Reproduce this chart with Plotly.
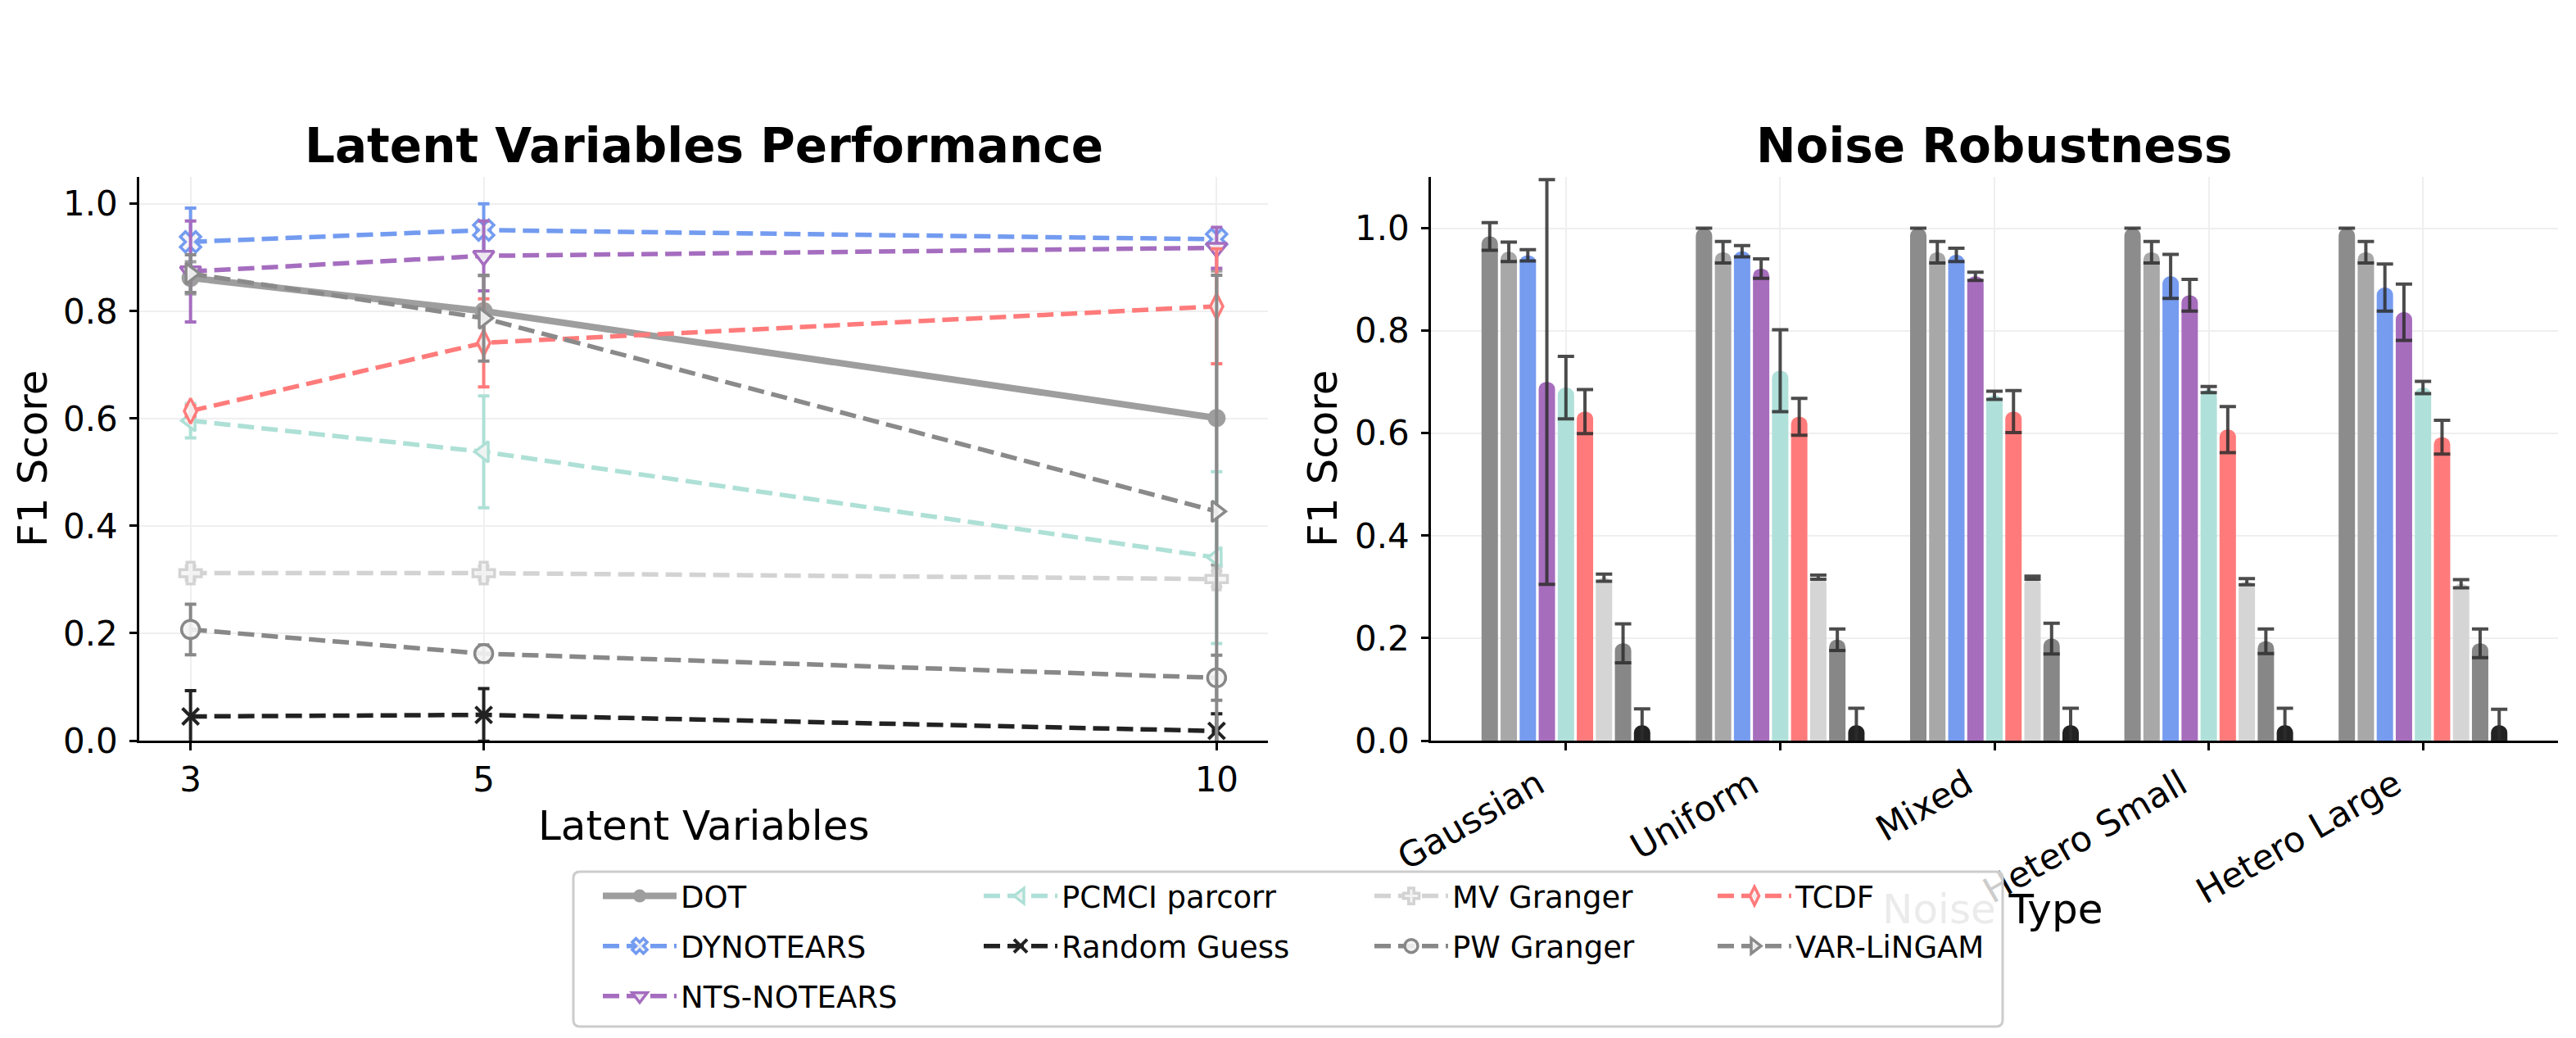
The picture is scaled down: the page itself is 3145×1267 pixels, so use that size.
import plotly.graph_objects as go

W, H = 3145, 1267
OX, OY = 8, 8  # page body margin of the html page


def px(x):
    return (x - OX) / W


def py(y):
    return 1 - (y - OY) / H


# ---- left panel: F1 vs number of latent variables ----
latent_vars = [3, 5, 10]

dot_f1 = [0.862, 0.800, 0.601]
dot_err = [0.030, 0.066, 0.274]
dynotears_f1 = [0.929, 0.951, 0.934]
dynotears_err = [0.063, 0.049, 0.012]
nts_notears_f1 = [0.874, 0.903, 0.918]
nts_notears_err = [0.094, 0.065, 0.038]
pcmci_f1 = [0.596, 0.538, 0.341]
pcmci_err = [0.032, 0.104, 0.160]
random_f1 = [0.045, 0.048, 0.018]
random_err = [0.048, 0.049, 0.032]
mv_granger_f1 = [0.312, 0.312, 0.301]
mv_granger_err = [0.013, 0.013, 0.015]
pw_granger_f1 = [0.207, 0.162, 0.117]
pw_granger_err = [0.047, 0.016, 0.042]
tcdf_f1 = [0.614, 0.741, 0.809]
tcdf_err = [0.010, 0.082, 0.107]
var_lingam_f1 = [0.870, 0.787, 0.427]
var_lingam_err = [0.035, 0.080, 0.440]

# ---- right panel: F1 per noise type ----
noise_types = ["Gaussian", "Uniform", "Mixed", "Hetero Small", "Hetero Large"]

dot_noise = [0.984, 1.000, 1.000, 1.000, 1.000]
dot_noise_err = [0.027, 0.0, 0.0, 0.0, 0.0]
var_lingam_noise = [0.954, 0.953, 0.953, 0.953, 0.953]
var_lingam_noise_err = [0.019, 0.021, 0.021, 0.021, 0.021]
dynotears_noise = [0.947, 0.955, 0.948, 0.906, 0.884]
dynotears_noise_err = [0.011, 0.011, 0.013, 0.043, 0.046]
nts_notears_noise = [0.700, 0.921, 0.906, 0.869, 0.836]
nts_notears_noise_err = [0.395, 0.019, 0.008, 0.031, 0.055]
pcmci_noise = [0.689, 0.722, 0.674, 0.685, 0.689]
pcmci_noise_err = [0.061, 0.080, 0.008, 0.006, 0.012]
tcdf_noise = [0.642, 0.632, 0.642, 0.607, 0.592]
tcdf_noise_err = [0.043, 0.036, 0.041, 0.045, 0.033]
mv_granger_noise = [0.318, 0.319, 0.318, 0.310, 0.306]
mv_granger_noise_err = [0.007, 0.004, 0.003, 0.006, 0.008]
pw_granger_noise = [0.190, 0.197, 0.199, 0.194, 0.190]
pw_granger_noise_err = [0.038, 0.021, 0.030, 0.024, 0.028]
random_noise = [0.030, 0.030, 0.030, 0.030, 0.030]
random_noise_err = [0.032, 0.033, 0.033, 0.033, 0.031]

FONT = "DejaVu Sans"
DASH = "20px,9px"

# name, y, err, color, symbol, legend column
lines = [
    ("DOT", dot_f1, dot_err, "#9e9e9e", "circle", "legend"),
    ("DYNOTEARS", dynotears_f1, dynotears_err, "#739bf0", "x", "legend"),
    ("NTS-NOTEARS", nts_notears_f1, nts_notears_err, "#a56dbf", "triangle-down", "legend"),
    ("PCMCI parcorr", pcmci_f1, pcmci_err, "#aee0d6", "triangle-left", "legend2"),
    ("Random Guess", random_f1, random_err, "#222222", "x-thin", "legend2"),
    ("MV Granger", mv_granger_f1, mv_granger_err, "#d3d3d3", "cross", "legend3"),
    ("PW Granger", pw_granger_f1, pw_granger_err, "#888888", "circle", "legend3"),
    ("TCDF", tcdf_f1, tcdf_err, "#ff7b7b", "diamond-tall", "legend4"),
    ("VAR-LiNGAM", var_lingam_f1, var_lingam_err, "#8a8a8a", "triangle-right", "legend4"),
]

fig = go.Figure()

for name, y, err, color, symbol, leg in lines:
    solid = name == "DOT"
    if solid:
        marker = dict(symbol=symbol, size=22, color=color, line=dict(width=0))
    elif symbol == "x-thin":
        marker = dict(symbol=symbol, size=20, color=color, line=dict(color=color, width=4))
    else:
        marker = dict(symbol=symbol, size=22, color="rgba(245,245,245,0.9)",
                      line=dict(color=color, width=3.5))
    fig.add_trace(go.Scatter(
        x=latent_vars, y=y, name=name, mode="lines+markers",
        line=dict(color=color, width=8 if solid else 5.5, dash="solid" if solid else DASH),
        marker=marker,
        error_y=dict(type="data", array=err, color=color, thickness=4, width=7),
        xaxis="x", yaxis="y", legend=leg, legendgroup=name,
    ))

bars = [
    ("DOT", dot_noise, dot_noise_err, "#8c8c8c"),
    ("VAR-LiNGAM", var_lingam_noise, var_lingam_noise_err, "#a8a8a8"),
    ("DYNOTEARS", dynotears_noise, dynotears_noise_err, "#769cf0"),
    ("NTS-NOTEARS", nts_notears_noise, nts_notears_noise_err, "#a66dbd"),
    ("PCMCI parcorr", pcmci_noise, pcmci_noise_err, "#b0e0da"),
    ("TCDF", tcdf_noise, tcdf_noise_err, "#ff7b7b"),
    ("MV Granger", mv_granger_noise, mv_granger_noise_err, "#d5d5d5"),
    ("PW Granger", pw_granger_noise, pw_granger_noise_err, "#878787"),
    ("Random Guess", random_noise, random_noise_err, "#222222"),
]
noise_x = list(range(len(noise_types)))
for name, y, err, color in bars:
    fig.add_trace(go.Bar(
        x=noise_x, y=y, name=name, showlegend=False,
        marker=dict(color=color, cornerradius=9, line=dict(width=0)),
        error_y=dict(type="data", array=err, color="rgba(45,45,45,0.85)", thickness=4, width=10),
        xaxis="x2", yaxis="y2",
    ))

axis_style = dict(
    showline=True, linecolor="black", linewidth=2.5, mirror=False,
    ticks="outside", ticklen=9, tickwidth=2.5, tickcolor="black",
    showgrid=True, gridcolor="#efefef", gridwidth=2, zeroline=False,
    tickfont=dict(family=FONT, size=42, color="black"),
)
ydom = [py(904), py(216)]

fig.update_layout(
    width=W, height=H, margin=dict(l=0, r=0, t=0, b=0, autoexpand=False),
    paper_bgcolor="white", plot_bgcolor="white",
    font=dict(family=FONT, color="black"),
    barmode="group", bargap=0.2, bargroupgap=0.14,
    xaxis=dict(axis_style, domain=[px(170), px(1548)], range=[2.65, 10.35],
               tickvals=latent_vars, anchor="y", ticklabelstandoff=0),
    yaxis=dict(axis_style, domain=ydom, range=[0, 1.05], anchor="x",
               tickvals=[0, 0.2, 0.4, 0.6, 0.8, 1.0], tickformat=".1f", ticklabelstandoff=6),
    xaxis2=dict(axis_style, domain=[px(1747), px(3123)], range=[-0.63, 4.63],
                tickvals=noise_x, ticktext=noise_types, tickangle=-30, anchor="y2",
                ticklabelshift=-34, tickfont=dict(family=FONT, size=43, color="black")),
    yaxis2=dict(axis_style, domain=ydom, range=[0, 1.1], anchor="x2",
                tickvals=[0, 0.2, 0.4, 0.6, 0.8, 1.0], tickformat=".1f", ticklabelstandoff=6),
)

# legend: four columns, one legend each, inside a common frame
leg_font = dict(family=FONT, size=37, color="black")
col_text_x = [825, 1290, 1767, 2186]
for i, tx in enumerate(col_text_x):
    key = "legend" if i == 0 else "legend%d" % (i + 1)
    fig.update_layout({key: dict(
        x=px(tx - 94), y=py(1063), xanchor="left", yanchor="top",
        bgcolor="rgba(0,0,0,0)", borderwidth=0, font=leg_font,
        itemwidth=90, tracegroupgap=10, orientation="v",
    )})

x0, x1, y0, y1 = px(700), px(2445), py(1253), py(1064)
rx, ry = 8 / W, 8 / H
frame = (f"M{x0 + rx},{y1} L{x1 - rx},{y1} Q{x1},{y1} {x1},{y1 - ry} "
         f"L{x1},{y0 + ry} Q{x1},{y0} {x1 - rx},{y0} L{x0 + rx},{y0} "
         f"Q{x0},{y0} {x0},{y0 + ry} L{x0},{y1 - ry} Q{x0},{y1} {x0 + rx},{y1} Z")
fig.add_shape(type="path", path=frame, xref="paper", yref="paper", layer="above",
              fillcolor="rgba(255,255,255,0.8)", line=dict(color="#cccccc", width=3))

# titles and axis labels
ann = dict(xref="paper", yref="paper", showarrow=False, xanchor="center", yanchor="middle")
fig.add_annotation(ann, x=px(859), y=py(178), text="Latent Variables Performance",
                   font=dict(family=FONT, size=58, weight="bold"))
fig.add_annotation(ann, x=px(2435), y=py(178), text="Noise Robustness",
                   font=dict(family=FONT, size=58, weight="bold"))
fig.add_annotation(ann, x=px(40), y=py(560), text="F1 Score", textangle=-90,
                   font=dict(family=FONT, size=50))
fig.add_annotation(ann, x=px(1615), y=py(560), text="F1 Score", textangle=-90,
                   font=dict(family=FONT, size=50))
fig.add_annotation(ann, x=px(859), y=py(1008), text="Latent Variables",
                   font=dict(family=FONT, size=50))
fig.add_annotation(ann, x=px(2432), y=py(1110),
                   text='<span style="color:#ebebeb">Noise</span> Type',
                   font=dict(family=FONT, size=50))

fig.write_html("out.html")
